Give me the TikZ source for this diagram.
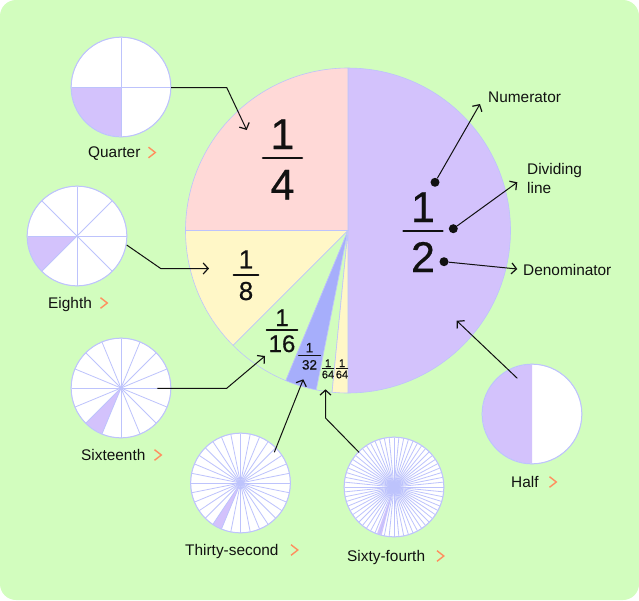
\documentclass[tikz,border=0pt]{standalone}
\usepackage{fontspec}
\setmainfont{Liberation Sans}
\newfontfamily\digitfont[FakeBold=0.5]{Liberation Sans}
\usetikzlibrary{arrows.meta}
\definecolor{bgc}{HTML}{D2FDBE}
\definecolor{purp}{HTML}{D3C2FC}
\definecolor{pinkc}{HTML}{FFD9D7}
\definecolor{yell}{HTML}{FFF7C7}
\definecolor{blu}{HTML}{A6AEFB}
\definecolor{edgec}{HTML}{BDC3FC}
\definecolor{orangec}{HTML}{FF8F5F}
\definecolor{ink}{HTML}{111111}
\tikzset{
  minipie/.style={circle,draw=edgec,line width=0.7pt,fill=white,minimum size=100pt,inner sep=0pt},
  spoke/.style={draw=edgec,line width=0.8pt},
  wedgeline/.style={draw=edgec,line width=0.6pt,line join=round},
  lbl/.style={anchor=base west,inner sep=0pt,text=ink,font=\fontsize{15.4}{18.4}\selectfont},
  chevron/.style={draw=orangec,line width=1.4pt},
  conn/.style={draw=ink,line width=1pt,-{Straight Barb[length=5pt,width=11pt,line width=1.2pt]},line join=round},
  dotnode/.style={circle,fill=ink,inner sep=0pt,minimum size=9pt},
  fracbar/.style={draw=ink,line cap=round},
  digit/.style={anchor=base,inner sep=0pt,text=ink}
}
\newcommand{\slicefill}[6]{%
  \fill[#6] (#1,#2) -- plot[domain=#4:#5,samples=60] ({#1+#3*cos(\x)},{#2-#3*sin(\x)}) -- cycle;}
\newcommand{\sliceedge}[6]{%
  \path[wedgeline,fill=#6] (#1,#2) -- plot[domain=#4:#5,samples=80] ({#1+#3*cos(\x)},{#2-#3*sin(\x)}) -- cycle;}
\newcommand{\smallpie}[6]{%
  \node[minipie] (#1) at (#2,#3) {};
  \slicefill{#2}{#3}{49.5}{#5}{#6}{purp}
  \foreach \k in {1,...,#4} {\draw[spoke] (#2,#3) -- ({#2+49.5*cos(\k/#4*360)},{#3-49.5*sin(\k/#4*360)});}
  \draw[edgec,line width=0.7pt] (#1.center) circle[radius=49.7pt];}
\newcommand{\chev}[2]{\draw[chevron] (#1,#2-5.3) -- (#1+6.8,#2) -- (#1,#2+5.3);}
\newcommand{\fr}[9]{%
  \def\frname{#1}\def\frcx{#2}\def\frbase{#3}\def\frbar{#4}\def\frden{#5}\def\frhw{#6}\def\frfs{#7}\def\frbw{#8}\def\frnum{#9}\frfinish}
\newcommand{\frfinish}[1]{%
  \node[digit,font=\digitfont\fontsize{\frfs}{\frfs}\selectfont] (\frname n) at (\frcx,\frbase) {\frnum};
  \node[digit,font=\digitfont\fontsize{\frfs}{\frfs}\selectfont] (\frname d) at (\frcx,\frden) {#1};
  \draw[fracbar,line width=\frbw pt] ({\frcx-\frhw},\frbar) -- ({\frcx+\frhw},\frbar);}
\begin{document}
\begin{tikzpicture}[x=1pt,y=-1pt]
\useasboundingbox (0,0) rectangle (639,600);
\fill[bgc,rounded corners=16pt] (0,0) rectangle (639,600);
% main pie
\sliceedge{348}{230.5}{162.5}{-90}{90}{purp}
\sliceedge{348}{230.5}{162.5}{90}{180}{pinkc}
\sliceedge{348}{230.5}{162.5}{180}{225}{yell}
\sliceedge{348}{230.5}{162.5}{225}{247.5}{bgc}
\sliceedge{348}{230.5}{162.5}{247.5}{258.75}{blu}
\sliceedge{348}{230.5}{162.5}{258.75}{264.375}{bgc}
\sliceedge{348}{230.5}{162.5}{264.375}{270}{yell}
% small pies
\smallpie{quarter}{121}{87}{4}{180}{270}
\smallpie{eighth}{77}{236}{8}{180}{225}
\smallpie{sixteenth}{121}{388}{16}{225}{247.5}
\smallpie{thirtysecond}{240.5}{483}{32}{236.25}{247.5}
\smallpie{sixtyfourth}{394}{487}{64}{250}{255.6}
\node[minipie] (half) at (532,414) {};
\slicefill{532}{414}{49.5}{90}{270}{purp}
\draw[edgec,line width=0.7pt] (half.center) circle[radius=49.7pt];
% labels
\node[lbl] (lquarter) at (88,157) {Quarter};
\node[lbl] (leighth) at (48,308) {Eighth};
\node[lbl] (lsixteenth) at (81,460) {Sixteenth};
\node[lbl] (lthirtysecond) at (185,555) {Thirty-second};
\node[lbl] (lsixtyfourth) at (347,561) {Sixty-fourth};
\node[lbl] (lhalf) at (511,487) {Half};
\node[lbl] (numer) at (488,102) {Numerator};
\node[lbl,anchor=west,align=left] (divid) at (527,178.5) {Dividing\\line};
\node[lbl] (denom) at (523,275) {Denominator};
\chev{148.5}{152.5}
\chev{100.5}{303}
\chev{154.5}{455}
\chev{291}{550}
\chev{437}{556}
\chev{549.5}{482}
% fractions
\fr{fa}{423}{222}{231}{272}{19.5}{43}{2.6}{1}{2}
\fr{fb}{282.5}{149}{158}{199.5}{19.5}{43}{2.6}{1}{4}
\fr{fc}{246}{268.3}{275}{300}{12.5}{26}{1.7}{1}{8}
\fr{fd}{282}{326}{330}{352}{15.5}{24}{1.5}{1}{16}
\fr{fe}{309.5}{352.3}{355}{369.5}{11}{13.5}{1}{1}{32}
\fr{ff}{328}{367}{368.5}{378.3}{5.8}{11}{0.8}{1}{64}
\fr{fg}{342}{367}{368.5}{378.3}{5.8}{11}{0.8}{1}{64}
% connector ends
\coordinate (sq) at (171,87.5);
\coordinate (bq) at (226.7,87.5);
\coordinate (tq) at (246.7,130);
\coordinate (se) at (126.7,245);
\coordinate (be) at (160.7,268.5);
\coordinate (te) at (209,268.5);
\coordinate (ss) at (157.3,388.3);
\coordinate (bs) at (226.7,388.3);
\coordinate (ts) at (265,356);
\coordinate (st) at (274.3,452.3);
\coordinate (tt) at (303.3,379.3);
\coordinate (sf) at (359,452.3);
\coordinate (bf) at (325.5,418);
\coordinate (tf) at (325.5,389.3);
\coordinate (sh) at (517.3,378.3);
\coordinate (th) at (456.7,320.7);
\coordinate (tn) at (480,104);
\coordinate (tv) at (517.3,182.3);
\coordinate (tm) at (517.3,269);
\node[dotnode] (dn) at (435,182.3) {};
\node[dotnode] (dv) at (453.3,228.7) {};
\node[dotnode] (dm) at (444,261.7) {};
% connectors
\draw[conn] (sq) -- (bq) -- (tq);
\draw[conn] (se) -- (be) -- (te);
\draw[conn] (ss) -- (bs) -- (ts);
\draw[conn] (st) -- (tt);
\draw[conn] (sf) -- (bf) -- (tf);
\draw[conn] (sh) -- (th);
\draw[conn] (dn) -- (tn);
\draw[conn] (dv) -- (tv);
\draw[conn] (dm) -- (tm);
\end{tikzpicture}
\end{document}
